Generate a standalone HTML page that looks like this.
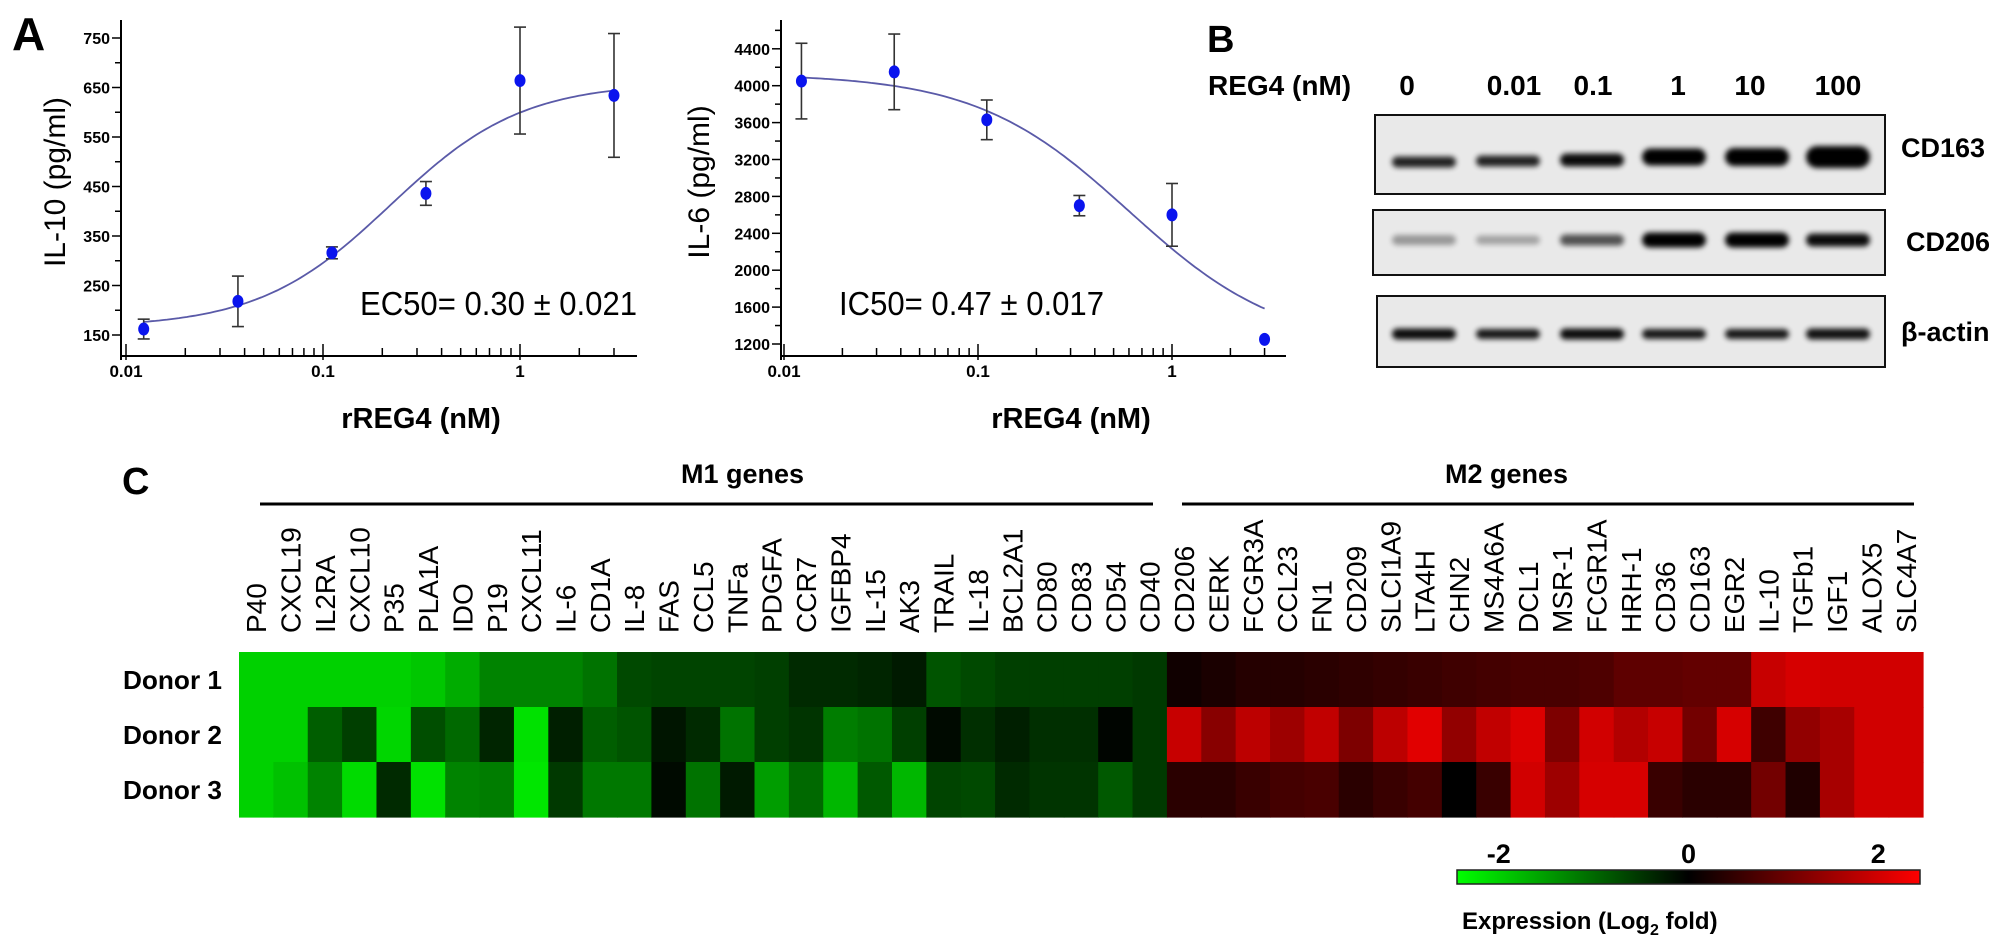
<!DOCTYPE html>
<html>
<head>
<meta charset="utf-8">
<style>
  html,body{margin:0;padding:0;background:#fff;}
  svg{display:block;font-family:"Liberation Sans",Arial,sans-serif;}
</style>
</head>
<body>
<svg id="fig" width="2008" height="950" viewBox="0 0 2008 950" xmlns="http://www.w3.org/2000/svg">
  <defs>
    <filter id="blur" x="-20%" y="-100%" width="140%" height="300%"><feGaussianBlur stdDeviation="2.6"/></filter>
    <linearGradient id="cbar" x1="0" x2="1" y1="0" y2="0">
      <stop offset="0" stop-color="#00ff00"/>
      <stop offset="0.5" stop-color="#000000"/>
      <stop offset="1" stop-color="#ff0000"/>
    </linearGradient>
  </defs>
  <rect width="2008" height="950" fill="#fff"/>
  <g id="chartA"></g>
  <g id="chartB"></g>
  <g id="blot"></g>
  <g id="heat"></g>
</svg>
<script>
// ---------- Panel A data ----------
const doseX = [0.0123, 0.037, 0.111, 0.333, 1, 3];
const il10Mean = [162, 218, 316, 436, 664, 634];
const il10Err = [20, 51, 12, 24, 108, 125];
const il10Fit = [165, 660, 0.22, 1.3]; // bottom, top, EC50, hill
const il10Ticks = [150, 250, 350, 450, 550, 650, 750];
const il6Mean = [4050, 4150, 3630, 2700, 2600, 1250];
const il6Err = [410, 410, 215, 110, 340, 0];
const il6Fit = [4130, 1150, 0.6, 1.1]; // top, bottom, IC50, hill
const il6Ticks = [1200, 1600, 2000, 2400, 2800, 3200, 3600, 4000, 4400];
const xTickLabels = ["0.01", "0.1", "1"];

// ---------- Panel B data ----------
const laneLabels = ["0", "0.01", "0.1", "1", "10", "100"];
const cd163Band = [0.85, 0.85, 0.95, 1, 1, 1];
const cd163Thick = [11, 11, 13, 17, 18, 22];
const cd206Band = [0.35, 0.3, 0.65, 1, 1, 0.95];
const cd206Thick = [10, 9, 11, 15, 15, 13];
const actinBand = [0.95, 0.9, 0.95, 0.9, 0.9, 0.92];
const actinThick = [11, 10, 11, 10, 10, 11];

// ---------- Panel C data ----------
const genes = ["P40","CXCL19","IL2RA","CXCL10","P35","PLA1A","IDO","P19","CXCL11","IL-6","CD1A","IL-8","FAS","CCL5","TNFa","PDGFA","CCR7","IGFBP4","IL-15","AK3","TRAIL","IL-18","BCL2A1","CD80","CD83","CD54","CD40",
  "CD206","CERK","FCGR3A","CCL23","FN1","CD209","SLCI1A9","LTA4H","CHN2","MS4A6A","DCL1","MSR-1","FCGR1A","HRH-1","CD36","CD163","EGR2","IL-10","TGFb1","IGF1","ALOX5","SLC4A7"];
const donors = ["Donor 1","Donor 2","Donor 3"];
const donor1 = [-2.0,-2.0,-2.0,-2.0,-2.0,-1.9,-1.65,-1.25,-1.25,-1.25,-1.1,-0.7,-0.65,-0.65,-0.65,-0.6,-0.4,-0.4,-0.35,-0.25,-0.8,-0.7,-0.6,-0.6,-0.6,-0.6,-0.55,
  0.15,0.25,0.35,0.35,0.4,0.45,0.5,0.55,0.6,0.65,0.7,0.7,0.75,0.9,0.9,0.95,0.95,1.9,2.05,2.0,2.0,2.0];
const donor2 = [-2.0,-2.0,-0.9,-0.6,-2.05,-0.75,-1.0,-0.35,-2.15,-0.3,-0.9,-0.8,-0.2,-0.4,-1.1,-0.6,-0.5,-1.2,-1.1,-0.6,-0.1,-0.45,-0.3,-0.45,-0.45,-0.05,-0.55,
  1.9,1.3,1.8,1.5,1.85,1.2,1.8,2.15,1.4,1.85,2.1,1.2,2.0,1.7,1.9,1.1,2.05,0.6,1.4,1.6,2.0,2.0];
const donor3 = [-2.0,-1.85,-1.25,-2.1,-0.4,-2.15,-1.25,-1.2,-2.2,-0.55,-1.15,-1.15,-0.1,-1.1,-0.25,-1.5,-1.0,-1.75,-0.85,-1.75,-0.65,-0.7,-0.4,-0.5,-0.5,-0.85,-0.55,
  0.4,0.4,0.55,0.65,0.7,0.4,0.55,0.65,0.0,0.55,2.0,1.5,2.05,2.05,0.55,0.4,0.4,1.1,0.3,1.6,2.0,2.0];
const m1Count = 27;
const colorbarTicks = [-2, 0, 2];

const NS = "http://www.w3.org/2000/svg";
function el(tag, parent, attrs, text) {
  const e = document.createElementNS(NS, tag);
  for (const k in attrs) e.setAttribute(k, attrs[k]);
  if (text !== undefined) e.textContent = text;
  parent.appendChild(e);
  return e;
}

// ---------- generic dose-response chart ----------
function drawChart(g, cfg) {
  const x = v => cfg.x0 + cfg.dec * Math.log10(v / 0.01);
  const y = v => cfg.yRef - (v - cfg.vRef) * cfg.k;
  const axX = cfg.axisX, axBot = 356, axTop = 20;
  let e;
  e = el("line", g, {x1: axX, y1: axTop, x2: axX, y2: axBot + 4, stroke: "#000", "stroke-width": 2});
  
  
  e = el("line", g, {x1: axX, y1: axBot, x2: cfg.axisEnd, y2: axBot, stroke: "#000", "stroke-width": 2});
  
  
  // y minor ticks
  const step = cfg.ticks[1] - cfg.ticks[0];
  for (let v = cfg.ticks[0]; y(v) >= axTop - 1; v += step / 2) {
    const major = cfg.ticks.indexOf(v) >= 0;
    e = el("line", g, {x1: axX - (major ? 9 : 6), y1: y(v), x2: axX, y2: y(v), stroke: "#000", "stroke-width": 1.5});
    
    
  }
  cfg.ticks.forEach(v => {
    const t = el("text", g, {x: axX - 11, y: y(v) + 6, "text-anchor": "end", "font-size": 16, "font-weight": "bold"}, v);
    
    
  });
  // x ticks
  for (let d = 0; d < 3; d++) {
    for (let m = 1; m <= 9; m++) {
      const v = 0.01 * Math.pow(10, d) * m;
      const px = x(v);
      if (px > cfg.axisEnd) break;
      e = el("line", g, {x1: px, y1: axBot - (m === 1 ? 12 : 8), x2: px, y2: axBot + (m === 1 ? 4 : 0), stroke: "#000", "stroke-width": 1.5});
      
      
    }
  }
  xTickLabels.forEach(lab => {
    const t = el("text", g, {x: x(parseFloat(lab)), y: 377, "text-anchor": "middle", "font-size": 17, "font-weight": "bold"}, lab);
    
    
  });
  // fit curve
  let d = "";
  const lo = Math.log10(doseX[0]), hi = Math.log10(doseX[doseX.length - 1]);
  for (let i = 0; i <= 120; i++) {
    const xv = Math.pow(10, lo + (hi - lo) * i / 120);
    const f = cfg.fit;
    const yv = f[0] + (f[1] - f[0]) * Math.pow(xv / f[2], f[3]) / (1 + Math.pow(xv / f[2], f[3]));
    d += (i ? "L" : "M") + x(xv).toFixed(1) + "," + y(yv).toFixed(1);
  }
  e = el("path", g, {d: d, fill: "none", stroke: "#5a5aa8", "stroke-width": 1.8});
  
  
  // error bars + points
  doseX.forEach((xv, i) => {
    const px = x(xv), m = cfg.mean[i], er = cfg.err[i];
    if (er > 0) {
      const eg = el("g", g, {stroke: "#333", "stroke-width": 1.6});
      
      
      el("line", eg, {x1: px, y1: y(m + er), x2: px, y2: y(m - er)});
      el("line", eg, {x1: px - 6, y1: y(m + er), x2: px + 6, y2: y(m + er)});
      el("line", eg, {x1: px - 6, y1: y(m - er), x2: px + 6, y2: y(m - er)});
    }
    const c = el("ellipse", g, {cx: px, cy: y(m), rx: 5.5, ry: 6.5, fill: "#0a14ee"});
    
    
  });
  let t = el("text", g, {x: 0, y: 0, "text-anchor": "middle", "font-size": 30, transform: `translate(${cfg.yTitleX},182) rotate(-90)`}, cfg.yTitle);
  
  
  t = el("text", g, {x: cfg.xTitleX, y: 428, "text-anchor": "middle", "font-size": 29, "font-weight": "bold"}, "rREG4 (nM)");
  
  
  t = el("text", g, {x: cfg.noteX, y: 315, "font-size": 33, textLength: cfg.noteW, lengthAdjust: "spacingAndGlyphs"}, cfg.note);
  
  
}

const gA = document.getElementById("chartA");
let lbl = el("text", gA, {x: 12, y: 50, "font-size": 46, "font-weight": "bold"}, "A");


drawChart(gA, {x0: 126, dec: 197, yRef: 335, vRef: 150, k: 0.495, axisX: 121, axisEnd: 637,
  ticks: il10Ticks, mean: il10Mean, err: il10Err, fit: il10Fit,
  yTitle: "IL-10 (pg/ml)", yTitleX: 65, xTitleX: 421, note: "EC50= 0.30 ± 0.021", noteX: 360, noteW: 277});

const gB = document.getElementById("chartB");
drawChart(gB, {x0: 784, dec: 194, yRef: 344, vRef: 1200, k: 0.09225, axisX: 781, axisEnd: 1286,
  ticks: il6Ticks, mean: il6Mean, err: il6Err,
  fit: [il6Fit[0], il6Fit[1], il6Fit[2], il6Fit[3]],
  yTitle: "IL-6 (pg/ml)", yTitleX: 709, xTitleX: 1071, note: "IC50= 0.47 ± 0.017", noteX: 839, noteW: 265});

// ---------- Western blot ----------
const gW = document.getElementById("blot");
lbl = el("text", gW, {x: 1207, y: 52, "font-size": 38, "font-weight": "bold"}, "B");


lbl = el("text", gW, {x: 1208, y: 95, "font-size": 28, "font-weight": "bold"}, "REG4 (nM)");


const laneX = [1407, 1514, 1593, 1678, 1750, 1838];
const bandX = [1424, 1508, 1592, 1674, 1757, 1838];
laneLabels.forEach((s, i) => {
  const t = el("text", gW, {x: laneX[i], y: 95, "text-anchor": "middle", "font-size": 28, "font-weight": "bold"}, s);
  
  
});
const blots = [
  {name: "CD163", x: 1375, y: 115, h: 79, bandY: 159, vals: cd163Band, th: cd163Thick, lx: 1901, ly: 157},
  {name: "CD206", x: 1373, y: 210, h: 65, bandY: 240, vals: cd206Band, th: cd206Thick, lx: 1906, ly: 251},
  {name: "β-actin", x: 1377, y: 296, h: 71, bandY: 334, vals: actinBand, th: actinThick, lx: 1901, ly: 341}
];
blots.forEach(b => {
  const bg = el("g", gW, {});
  
  
  el("rect", bg, {x: b.x, y: b.y, width: 1885 - b.x, height: b.h, fill: "#e9e9e9", stroke: "#111", "stroke-width": 2});
  b.vals.forEach((v, i) => {
    const th = b.th[i];
    const r = el("rect", bg, {x: bandX[i] - 32, y: b.bandY - th / 2 + (b.name === "CD163" ? (i < 3 ? 3 - i : -2) : 0), width: 64, height: th, rx: th / 2, fill: "#000", opacity: v, filter: "url(#blur)"});
    
    
  });
  const t = el("text", gW, {x: b.lx, y: b.ly, "font-size": 27, "font-weight": "bold"}, b.name);
  
  
});

// ---------- Heatmap ----------
const gH = document.getElementById("heat");
const hx0 = 239, hy0 = 652, cw = (1923 - 239) / genes.length, rh = 55;
lbl = el("text", gH, {x: 122, y: 494, "font-size": 38, "font-weight": "bold"}, "C");


let ln = el("line", gH, {x1: 260, y1: 504, x2: 1153, y2: 504, stroke: "#000", "stroke-width": 3});


ln = el("line", gH, {x1: 1182, y1: 504, x2: 1914, y2: 504, stroke: "#000", "stroke-width": 3});


lbl = el("text", gH, {x: 681, y: 483, "font-size": 27, "font-weight": "bold"}, "M1 genes");


lbl = el("text", gH, {x: 1445, y: 483, "font-size": 27, "font-weight": "bold"}, "M2 genes");



genes.forEach((gname, i) => {
  const cx = hx0 + cw * (i + 0.5) + 10;
  const t = el("text", gH, {x: 0, y: 0, "font-size": 28, transform: `translate(${cx.toFixed(1)},633) rotate(-90)`}, gname);
  
  
});
function heatColor(v) {
  const t = Math.min(1, Math.abs(v) / 2.44);
  const c = Math.round(255 * t);
  return v < 0 ? `rgb(0,${c},0)` : `rgb(${c},0,0)`;
}
[donor1, donor2, donor3].forEach((row, r) => {
  const t = el("text", gH, {x: 123, y: hy0 + rh * r + 37, "font-size": 26, "font-weight": "bold", textLength: 99, lengthAdjust: "spacingAndGlyphs"}, donors[r]);
  
  
  row.forEach((v, i) => {
    const c = el("rect", gH, {x: (hx0 + cw * i).toFixed(2), y: hy0 + rh * r, width: (cw + 0.6).toFixed(2), height: rh + 0.6, fill: heatColor(v)});
    
    
  });
});
// colorbar
const cbX0 = 1457, cbX1 = 1920;
const cbx = v => cbX0 + (v + 2.44) / 4.88 * (cbX1 - cbX0);
let cb = el("rect", gH, {x: cbX0, y: 870, width: cbX1 - cbX0, height: 14, fill: "url(#cbar)", stroke: "#222", "stroke-width": 1.5});


colorbarTicks.forEach(v => {
  const t = el("text", gH, {x: cbx(v), y: 863, "text-anchor": "middle", "font-size": 27, "font-weight": "bold"}, v);
  
  
});
const ct = el("text", gH, {x: 1462, y: 929, "font-size": 24, "font-weight": "bold"});


el("tspan", ct, {}, "Expression (Log");
el("tspan", ct, {"font-size": 16, dy: 6}, "2");
el("tspan", ct, {dy: -6}, " fold)");
</script>
</body>
</html>
